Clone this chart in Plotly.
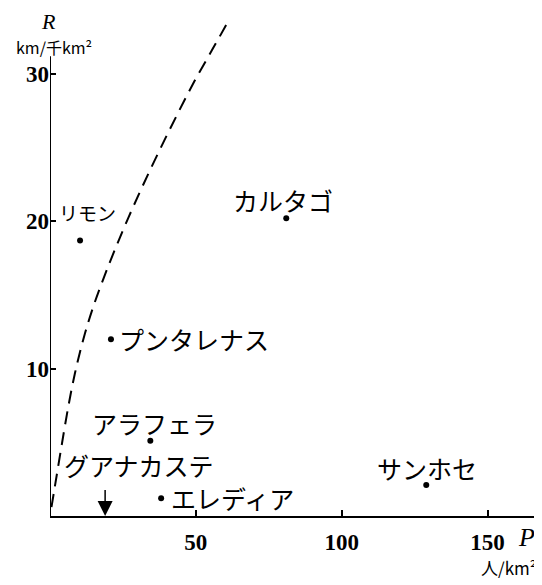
import plotly.graph_objects as go

# Data
places = ["リモン", "カルタゴ", "プンタレナス", "アラフェラ", "エレディア", "サンホセ"]
density_P = [10.3, 81.0, 20.9, 34.4, 38.1, 129.0]      # 人/km²
road_R = [18.7, 20.2, 12.0, 5.1, 1.2, 2.1]               # km/千km²

guanacaste_name = "グアナカステ"
guanacaste_P = 18.9

curve_P = [0.5, 1.5, 2.5, 4.0, 5.8, 7.6, 9.5, 12.0, 15.0, 18.5, 22.5, 27.0, 32.0, 37.5, 43.5, 49.5, 55.5, 61.2]
curve_R = [0.6, 1.8, 3.0, 4.8, 6.9, 8.8, 10.5, 12.4, 14.3, 16.2, 18.2, 20.3, 22.5, 24.8, 27.2, 29.5, 31.6, 33.6]

x_ticks = [50, 100, 150]
y_ticks = [10, 20, 30]

# label placement (pixels): xshift, yshift, xanchor, font size
label_style = {
    "リモン": (7, 28, "center", 19),
    "カルタゴ": (-3, 18, "center", 25),
    "プンタレナス": (6, 0, "left", 25),
    "アラフェラ": (4, 18, "center", 25),
    "エレディア": (8, 0, "left", 25),
    "サンホセ": (1, 17, "center", 25),
}

JP = "Noto Sans CJK JP"
SERIF = "Liberation Serif"

fig = go.Figure()
fig.add_trace(go.Scatter(
    x=curve_P, y=curve_R, mode="lines",
    line=dict(color="black", width=2, dash="13px,8px", shape="spline"),
    hoverinfo="skip", showlegend=False,
))
fig.add_trace(go.Scatter(
    x=density_P, y=road_R, mode="markers",
    marker=dict(color="black", size=6),
    showlegend=False, cliponaxis=False,
))

for name, px_, ry in zip(places, density_P, road_R):
    xs, ys, xa, fs = label_style[name]
    fig.add_annotation(x=px_, y=ry, text=name, showarrow=False,
                       xanchor=xa, yanchor="middle", xshift=xs, yshift=ys,
                       font=dict(family=JP, size=fs, color="black"))

# Guanacaste arrow
fig.add_annotation(x=guanacaste_P, y=0, text=" ", showarrow=True,
                   ax=0, ay=-36, arrowhead=2, arrowsize=2, arrowwidth=1.5,
                   arrowcolor="black")
fig.add_annotation(x=guanacaste_P, y=0, text=guanacaste_name, showarrow=False,
                   xanchor="center", yanchor="middle", xshift=34, yshift=51,
                   font=dict(family=JP, size=25, color="black"))

# y axis line (stops below the curve's top)
fig.add_shape(type="line", xref="x", yref="y", x0=0, x1=0, y0=0, y1=31.2,
              line=dict(color="black", width=2))

# axis titles
fig.add_annotation(xref="paper", yref="paper", x=0, y=1, text="<i>R</i>",
                   showarrow=False, xanchor="center", yanchor="top", xshift=-2, yshift=7,
                   borderpad=0, font=dict(family=SERIF, size=22, color="black"))
fig.add_annotation(xref="paper", yref="paper", x=0, y=1, text="km/千km²",
                   showarrow=False, xanchor="center", yanchor="middle", xshift=4, yshift=-32,
                   borderpad=0, font=dict(family=JP, size=16, color="black"))
fig.add_annotation(xref="paper", yref="paper", x=1, y=0, text="<i>P</i>",
                   showarrow=False, xanchor="right", yanchor="middle", xshift=-3, yshift=-21,
                   font=dict(family=SERIF, size=26, color="black"))
fig.add_annotation(xref="paper", yref="paper", x=1, y=0, text="人/km²",
                   showarrow=False, xanchor="right", yanchor="middle", xshift=-1, yshift=-51,
                   font=dict(family=JP, size=17, color="black"))

# The page body has an 8px margin, so the figure is sized to fit the window
fig.update_layout(
    width=534, height=577,
    margin=dict(l=42, r=2, t=7, b=69),
    paper_bgcolor="white", plot_bgcolor="white",
    xaxis=dict(range=[0, 168], tickvals=x_ticks, ticktext=[str(v) for v in x_ticks],
               showgrid=False, zeroline=False, showline=True, linecolor="black", linewidth=2,
               ticks="inside", ticklen=6, tickwidth=1.5, tickcolor="black",
               tickfont=dict(family=SERIF, size=23, color="black", weight="bold"),
               ticklabelstandoff=4),
    yaxis=dict(range=[0, 34], tickvals=y_ticks, ticktext=[str(v) for v in y_ticks],
               showgrid=False, zeroline=False, showline=False,
               ticks="inside", ticklen=6, tickwidth=1.5, tickcolor="black",
               tickfont=dict(family=SERIF, size=23, color="black", weight="bold"),
               ticklabelstandoff=0),
)

fig.write_html("out.html")
